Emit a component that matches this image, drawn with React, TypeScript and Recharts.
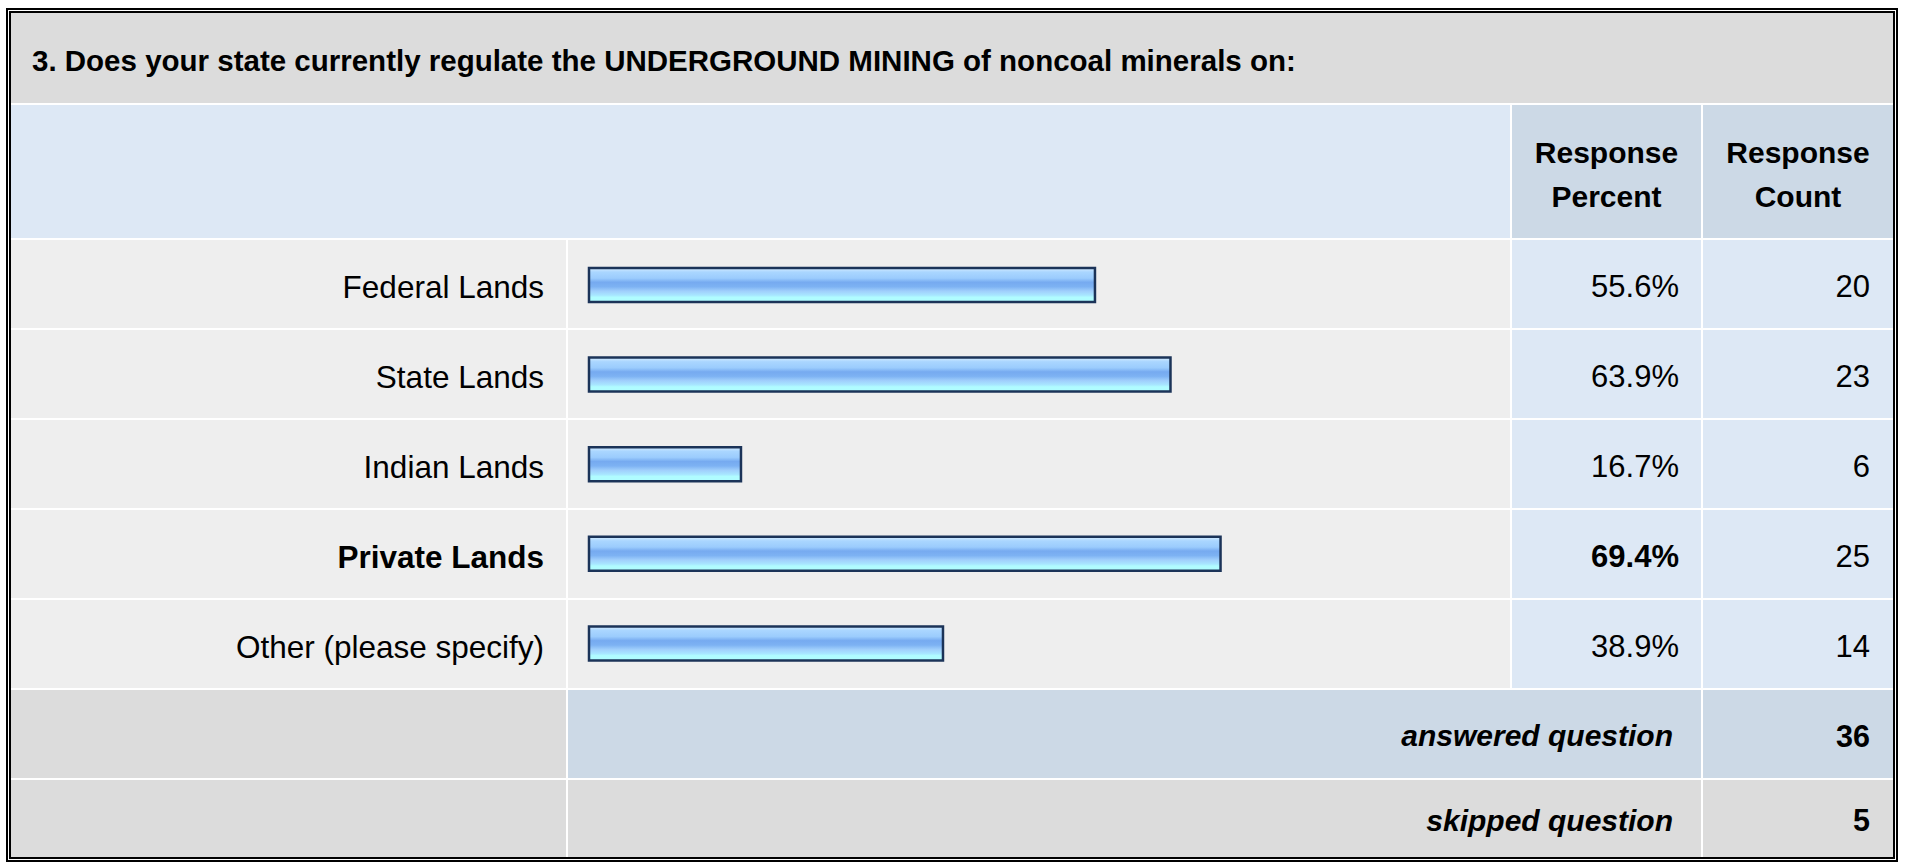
import React from "react";
import { BarChart, Bar, XAxis, YAxis } from "recharts";

const question =
  "3. Does your state currently regulate the UNDERGROUND MINING of noncoal minerals on:";
const choices = [
  "Federal Lands",
  "State Lands",
  "Indian Lands",
  "Private Lands",
  "Other (please specify)",
];
const percents = [55.6, 63.9, 16.7, 69.4, 38.9];
const counts = [20, 23, 6, 25, 14];
const answeredCount = 36;
const skippedCount = 5;

const font = '"Liberation Sans", Arial, Helvetica, sans-serif';
const GRAY = "#dcdcdc";
const ROW = "#eeeeee";
const LIGHT_BLUE = "#dde8f5";
const MID_BLUE = "#ccd9e6";

const maxIdx = percents.indexOf(Math.max(...percents));
const rows = choices.map((label, i) => ({ label, pct: percents[i] }));

function cell(
  row: number | string,
  col: number | string,
  bg: string,
  extra: React.CSSProperties = {}
): React.CSSProperties {
  return {
    gridRow: row,
    gridColumn: col,
    background: bg,
    display: "flex",
    alignItems: "center",
    boxSizing: "border-box",
    ...extra,
  };
}

function ResponseBars() {
  return (
    <BarChart
      width={942}
      height={448}
      data={rows}
      layout="vertical"
      margin={{ top: 0, right: 11, bottom: 0, left: 21 }}
    >
      <defs>
        <linearGradient id="barGrad" x1="0" y1="0" x2="0" y2="1">
          <stop offset="0" stopColor="#d6edff" />
          <stop offset="0.12" stopColor="#aad6ff" />
          <stop offset="0.3" stopColor="#9bccfd" />
          <stop offset="0.42" stopColor="#76aaf0" />
          <stop offset="0.55" stopColor="#7db2f3" />
          <stop offset="0.68" stopColor="#a0cffc" />
          <stop offset="0.8" stopColor="#a8e6ff" />
          <stop offset="0.86" stopColor="#b0fcff" />
          <stop offset="1" stopColor="#b0fcff" />
        </linearGradient>
      </defs>
      <XAxis type="number" domain={[0, 100]} hide />
      <YAxis type="category" dataKey="label" hide />
      <Bar
        dataKey="pct"
        barSize={34}
        fill="url(#barGrad)"
        stroke="#1b3358"
        strokeWidth={2.5}
        isAnimationActive={false}
      />
    </BarChart>
  );
}

export default function App() {
  const textBase: React.CSSProperties = {
    fontFamily: font,
    color: "#000",
  };
  return (
    <div
      style={{
        position: "absolute",
        left: 6,
        top: 8,
        width: 1892,
        height: 854,
        boxSizing: "border-box",
        border: "5px double #000",
        background: "#fff",
        ...textBase,
      }}
    >
      <div
        style={{
          display: "grid",
          gridTemplateColumns: "555px 942px 189px 190px",
          gridTemplateRows: "90px 133px repeat(6, 88px) 77px",
          gap: 2,
          background: "#fff",
        }}
      >
        {/* title */}
        <div
          style={cell(1, "1 / 5", GRAY, {
            paddingLeft: 21,
            paddingTop: 6,
            fontWeight: "bold",
            fontSize: 29.5,
          })}
        >
          {question}
        </div>

        {/* header */}
        <div style={cell(2, "1 / 3", LIGHT_BLUE)} />
        {["Percent", "Count"].map((w, j) => (
          <div
            key={w}
            style={cell(2, 3 + j, MID_BLUE, {
              justifyContent: "center",
              textAlign: "center",
              fontWeight: "bold",
              fontSize: 30,
              lineHeight: "44px",
              paddingTop: 6,
            })}
          >
            Response
            <br />
            {w}
          </div>
        ))}

        {/* answer rows */}
        {choices.map((label, i) => {
          const bold = i === maxIdx ? "bold" : "normal";
          const r = 3 + i;
          return (
            <React.Fragment key={label}>
              <div
                style={cell(r, 1, ROW, {
                  justifyContent: "flex-end",
                  paddingRight: 22,
                  paddingTop: 6,
                  fontSize: 31.5,
                  fontWeight: bold,
                })}
              >
                {label}
              </div>
              <div style={cell(r, 2, ROW)} />
              <div
                style={cell(r, 3, LIGHT_BLUE, {
                  justifyContent: "flex-end",
                  paddingRight: 22,
                  paddingTop: 6,
                  fontSize: 31,
                  fontWeight: bold,
                })}
              >
                {percents[i].toFixed(1)}%
              </div>
              <div
                style={cell(r, 4, LIGHT_BLUE, {
                  justifyContent: "flex-end",
                  paddingRight: 23,
                  paddingTop: 6,
                  fontSize: 31,
                })}
              >
                {counts[i]}
              </div>
            </React.Fragment>
          );
        })}

        {/* bars drawn over the bar column */}
        <div style={{ gridRow: "3 / 8", gridColumn: 2, position: "relative", zIndex: 1 }}>
          <ResponseBars />
        </div>

        {/* totals */}
        <div style={cell(8, 1, GRAY)} />
        <div
          style={cell(8, "2 / 4", MID_BLUE, {
            justifyContent: "flex-end",
            paddingRight: 28,
            paddingTop: 4,
            fontSize: 30,
            fontWeight: "bold",
            fontStyle: "italic",
          })}
        >
          answered question
        </div>
        <div
          style={cell(8, 4, MID_BLUE, {
            justifyContent: "flex-end",
            paddingRight: 23,
            paddingTop: 4,
            fontSize: 30.5,
            fontWeight: "bold",
          })}
        >
          {answeredCount}
        </div>
        <div style={cell(9, 1, GRAY)} />
        <div
          style={cell(9, "2 / 4", GRAY, {
            justifyContent: "flex-end",
            paddingRight: 28,
            paddingTop: 4,
            fontSize: 30,
            fontWeight: "bold",
            fontStyle: "italic",
          })}
        >
          skipped question
        </div>
        <div
          style={cell(9, 4, GRAY, {
            justifyContent: "flex-end",
            paddingRight: 23,
            paddingTop: 4,
            fontSize: 30.5,
            fontWeight: "bold",
          })}
        >
          {skippedCount}
        </div>
      </div>
    </div>
  );
}
